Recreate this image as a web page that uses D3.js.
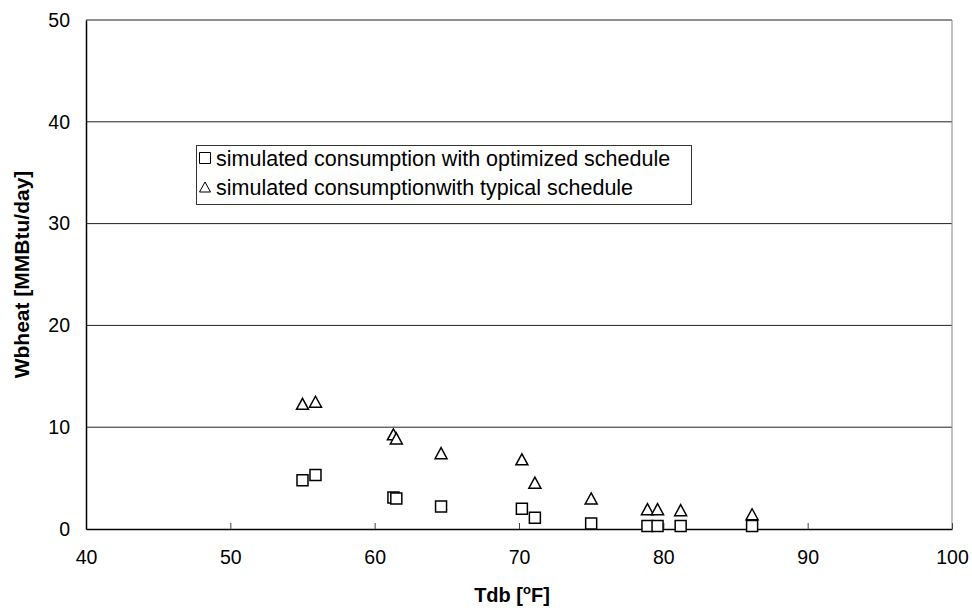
<!DOCTYPE html>
<html>
<head>
<meta charset="utf-8">
<script src="https://cdn.jsdelivr.net/npm/d3@7"></script>
<style>
  html, body { margin: 0; padding: 0; background: #fff; }
  svg { display: block; font-family: "Liberation Sans", Arial, sans-serif; }
</style>
</head>
<body>
<svg id="chart" width="972" height="613"></svg>
<script>
// Daily outdoor dry-bulb temperature (°F) for each simulated day
const tdb = [55.0, 55.9, 61.3, 61.5, 64.6, 70.2, 71.1, 75.0, 78.9, 79.6, 81.2, 86.15];
// Heating energy (MMBtu/day), optimized schedule
const optimized = [4.8, 5.3, 3.1, 3.0, 2.2, 2.0, 1.1, 0.55, 0.3, 0.3, 0.3, 0.3];
// Heating energy (MMBtu/day), typical schedule
const typical = [12.3, 12.5, 9.3, 8.9, 7.45, 6.85, 4.55, 3.0, 1.95, 1.95, 1.85, 1.45];

const xTicks = [40, 50, 60, 70, 80, 90, 100];
const yTicks = [0, 10, 20, 30, 40, 50];
const seriesNames = [
  "simulated consumption with optimized schedule",
  "simulated consumptionwith typical schedule"
];

const svg = d3.select("#chart");
const plot = { left: 86, right: 952, top: 20, bottom: 529 };
const tickFont = 19.5;

const x = d3.scaleLinear().domain([40, 100]).range([plot.left, plot.right]);
const y = d3.scaleLinear().domain([0, 50]).range([plot.bottom, plot.top]);

// horizontal gridlines
svg.append("g")
  .selectAll("line")
  .data(yTicks.filter(d => d > 0))
  .join("line")
  .attr("x1", plot.left).attr("x2", plot.right)
  .attr("y1", d => y(d)).attr("y2", d => y(d))
  .attr("stroke", "#222").attr("stroke-width", 1);

// right frame
svg.append("line")
  .attr("x1", plot.right).attr("x2", plot.right)
  .attr("y1", plot.top).attr("y2", plot.bottom)
  .attr("stroke", "#888").attr("stroke-width", 1);

// x axis: inward ticks, labels below
const xAxis = svg.append("g")
  .attr("transform", `translate(0,${plot.bottom})`)
  .call(d3.axisBottom(x).tickValues(xTicks).tickSize(-6).tickPadding(21).tickSizeOuter(0));
xAxis.select(".domain").attr("stroke", "#000").attr("stroke-width", 1.5);
xAxis.selectAll(".tick line").attr("stroke", "#444");
xAxis.selectAll("text").attr("font-size", tickFont).attr("fill", "#000")
  .attr("font-family", "Liberation Sans, Arial, sans-serif");

// y axis
const yAxis = svg.append("g")
  .attr("transform", `translate(${plot.left},0)`)
  .call(d3.axisLeft(y).tickValues(yTicks).tickSize(0).tickPadding(16).tickSizeOuter(0));
yAxis.select(".domain").attr("stroke", "#000").attr("stroke-width", 1.5);
yAxis.selectAll("text").attr("font-size", tickFont).attr("fill", "#000")
  .attr("font-family", "Liberation Sans, Arial, sans-serif");

// axis titles
const xTitle = svg.append("text")
  .attr("x", 512).attr("y", 602)
  .attr("text-anchor", "middle")
  .attr("font-size", 20).attr("font-weight", "bold");
xTitle.append("tspan").text("Tdb [");
xTitle.append("tspan").attr("dy", -8).attr("font-size", 13).text("o");
xTitle.append("tspan").attr("dy", 8).text("F]");

svg.append("text")
  .attr("transform", `translate(29,${(plot.top + plot.bottom) / 2}) rotate(-90)`)
  .attr("text-anchor", "middle")
  .attr("font-size", 21).attr("font-weight", "bold")
  .text("Wbheat [MMBtu/day]");

// marker shapes
const sq = 11;
function squarePath(cx, cy, s = sq) {
  return `M${cx - s / 2},${cy - s / 2}h${s}v${s}h${-s}Z`;
}
function trianglePath(cx, cy, w = 12, h = 11) {
  return `M${cx},${cy - h / 2}L${cx + w / 2},${cy + h / 2}L${cx - w / 2},${cy + h / 2}Z`;
}

const pts = tdb.map((t, i) => ({ t, opt: optimized[i], typ: typical[i] }));

svg.append("g").selectAll("path")
  .data(pts)
  .join("path")
  .attr("d", d => trianglePath(x(d.t), y(d.typ)))
  .attr("fill", "#fff").attr("stroke", "#000").attr("stroke-width", 1.5);

svg.append("g").selectAll("path")
  .data(pts)
  .join("path")
  .attr("d", d => squarePath(x(d.t), y(d.opt)))
  .attr("fill", "#fff").attr("stroke", "#000").attr("stroke-width", 1.5);

// legend
const lg = svg.append("g");
lg.append("rect")
  .attr("x", 196.5).attr("y", 145.5).attr("width", 495).attr("height", 59)
  .attr("fill", "#fff").attr("stroke", "#333").attr("stroke-width", 1);
const legendRows = [
  { name: seriesNames[0], shape: (cx, cy) => squarePath(cx, cy, 11), cy: 158 },
  { name: seriesNames[1], shape: (cx, cy) => trianglePath(cx, cy, 11, 10), cy: 187 }
];
lg.selectAll("path")
  .data(legendRows)
  .join("path")
  .attr("d", d => d.shape(205, d.cy))
  .attr("fill", "#fff").attr("stroke", "#000").attr("stroke-width", 1);
lg.selectAll("text")
  .data(legendRows)
  .join("text")
  .attr("x", 216).attr("y", d => d.cy + 7.5)
  .attr("font-size", 21.5)
  .text(d => d.name);
</script>
</body>
</html>
